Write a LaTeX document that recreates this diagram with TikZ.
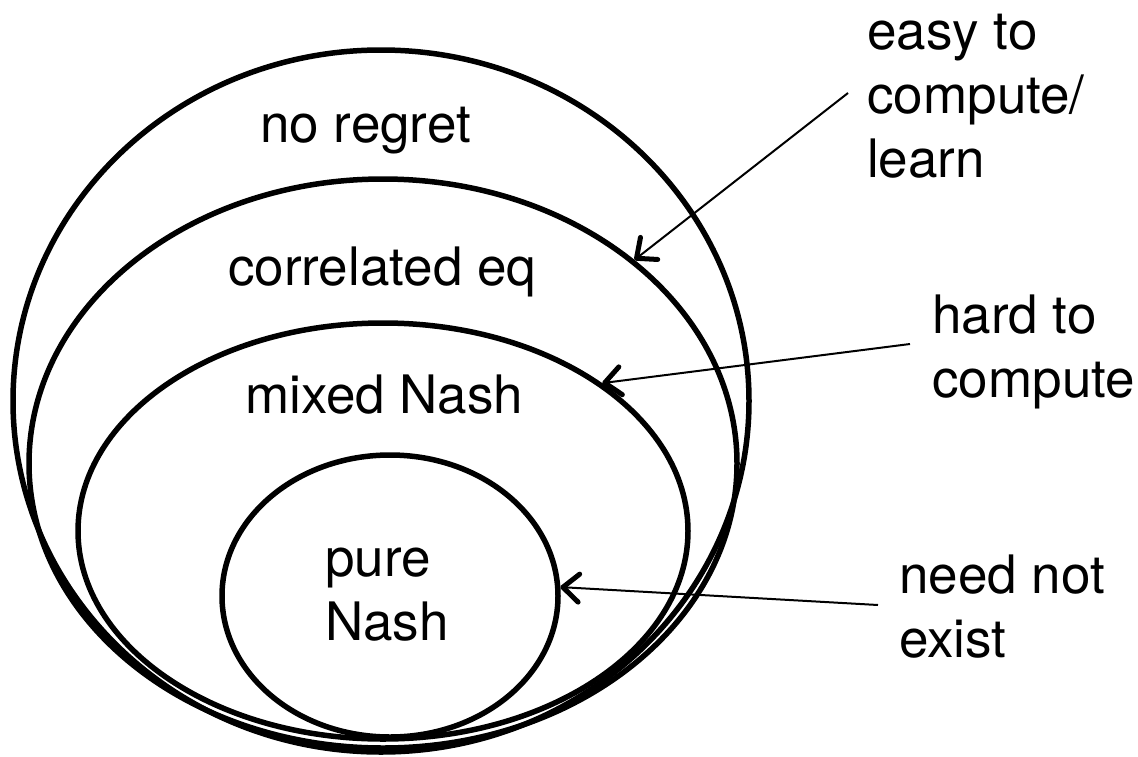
\documentclass[tikz,border=0pt]{standalone}
\usepackage{fontspec}
\setmainfont{TeX Gyre Heros}
\usetikzlibrary{shapes.geometric,arrows.meta}
\begin{document}
\begin{tikzpicture}[x=1pt,y=-1pt,
  setring/.style={ellipse, draw, line width=5.5pt, inner sep=0pt},
  lbl/.style={font=\fontsize{53}{64}\selectfont, inner sep=0pt, align=left, anchor=base west},
  pointer/.style={line width=2pt, -{Straight Barb[length=16pt,width=28pt,line width=5pt,round]}}]
  \useasboundingbox (0,0) rectangle (1138,756);

  % nested solution concepts
  \node[setring, minimum width=736pt, minimum height=702pt] (noreg) at (381,401) {};
  \node[setring, minimum width=708pt, minimum height=569pt] (corr) at (383,463.5) {};
  \node[setring, minimum width=610pt, minimum height=416pt] (mixed) at (383,531) {};
  \node[setring, minimum width=336pt, minimum height=282pt] (pure) at (390,596) {};

  % region names (anchored at the baseline of the last line)
  \node[lbl] (tnoreg) at (260,142) {no regret};
  \node[lbl] (tcorr) at (228,285) {correlated eq};
  \node[lbl] (tmixed) at (245,413) {mixed Nash};
  \node[lbl] (tpure) at (325,640) {pure\\Nash};

  % remarks on the right
  \node[lbl] (easy) at (867,177) {easy to\\compute/\\learn};
  \node[lbl] (hard) at (932,397) {hard to\\compute};
  \node[lbl] (need) at (899,657) {need not\\exist};

  \coordinate (easyfrom) at (848,93);
  \coordinate (hardfrom) at (910,344);
  \coordinate (needfrom) at (878,605);

  \draw[pointer] (easyfrom) -- (corr.39.5);
  \draw[pointer] (hardfrom) -- (mixed.34.5);
  \draw[pointer] (needfrom) -- (pure.3);
\end{tikzpicture}
\end{document}
